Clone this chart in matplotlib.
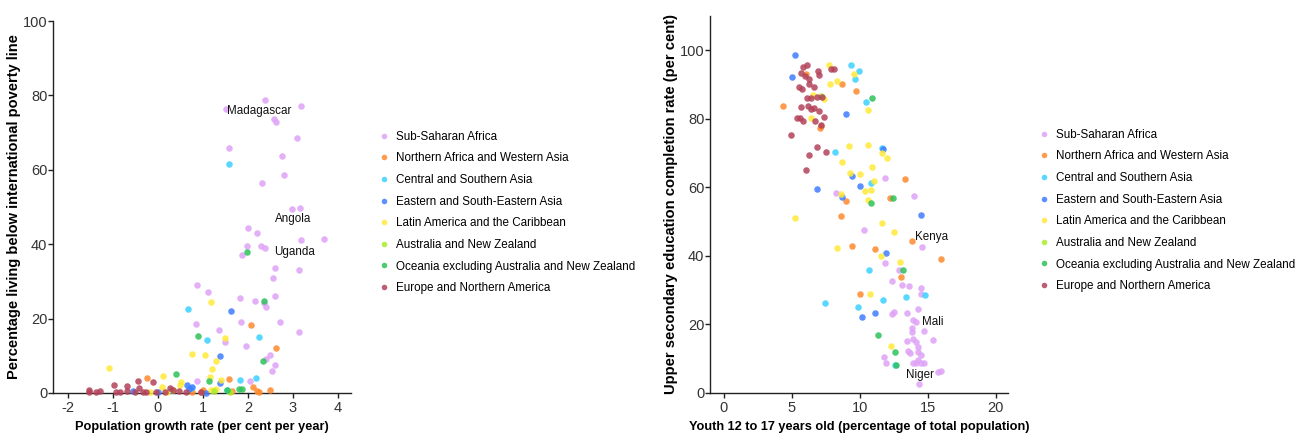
import matplotlib
matplotlib.use("Agg")
import matplotlib.pyplot as plt
from matplotlib.lines import Line2D

plt.rcParams["font.family"] = ["Liberation Sans", "DejaVu Sans"]
plt.rcParams["axes.unicode_minus"] = False

regions = ["Sub-Saharan Africa", "Northern Africa and Western Asia", "Central and Southern Asia",
           "Eastern and South-Eastern Asia", "Latin America and the Caribbean",
           "Australia and New Zealand", "Oceania excluding Australia and New Zealand",
           "Europe and Northern America"]
colores = ["#DFA3F7", "#FF8A2E", "#3CD2FF", "#3F7DFF", "#FFE93A", "#ABEB2B", "#2DC25A", "#B2425A"]

# --- poblacion vs pobreza ---
growth_ssa = [2.38, 1.51, 3.17, 2.58, 2.63, 3.09, 1.57, 2.75, 2.80, 2.32, 2.99, 3.16, 2.01, 2.20, 3.18,
              3.69, 1.99, 2.28, 2.37, 1.86, 2.60, 3.13, 2.55, 0.87, 1.12, 2.60, 1.82, 2.16, 2.36, 2.40,
              0.85, 1.85, 2.72, 3.13, 1.36, 1.50, 1.95, 2.49, 2.41, 2.60, 2.54, 0.87, 2.05]
poverty_ssa = [78.8, 76.4, 77.2, 73.6, 72.8, 68.6, 65.9, 63.7, 58.7, 56.5, 49.4, 49.8, 44.4, 42.9, 41.0,
               41.4, 39.4, 39.6, 39.1, 37.0, 33.7, 33.1, 30.8, 29.1, 27.2, 26.0, 25.5, 24.7, 24.2, 23.2,
               18.6, 19.1, 19.2, 16.3, 16.9, 13.8, 12.6, 10.2, 9.1, 7.5, 6.0, 3.3, 3.3]
growth_nawa = [2.06, 2.63, 1.59, -0.25, 2.12, 2.48, 2.20, 1.01, 0.95, 1.64, 0.75, 2.25]
poverty_nawa = [18.3, 12.2, 3.7, 4.1, 1.7, 0.8, 0.6, 0.8, 0.3, 0.5, 0.3, 0.2]
growth_csa = [1.59, 0.67, 1.10, 2.24, 1.83, 2.18, 1.54, 0.73, 0.30]
poverty_csa = [61.6, 22.5, 14.2, 15.0, 3.5, 4.0, 0.8, 1.3, 0.9]
growth_esea = [1.62, 1.39, 1.37, 0.64, 0.76, -0.55, 0.00, 1.07, 0.70]
poverty_esea = [22.0, 9.9, 2.6, 2.2, 1.7, 0.6, 0.2, 0.1, 1.1]
growth_lac = [-1.09, 1.18, 1.48, 0.75, 1.05, 1.29, 1.21, 1.15, 0.11, 0.51, 0.50, 1.41, 0.09, 1.18,
              1.29, 0.34, -0.18, 0.20]
poverty_lac = [6.6, 24.5, 14.7, 10.5, 10.2, 8.7, 6.5, 4.4, 4.6, 3.0, 2.2, 3.5, 1.5, 0.8,
               1.0, 0.8, 0.3, 0.3]
growth_anz = [1.25, 1.60]
poverty_anz = [0.5, 0.2]
growth_oce = [1.99, 2.36, 0.89, 2.34, 1.13, 0.41, 1.80, 1.87, 1.54]
poverty_oce = [37.9, 24.6, 15.2, 8.6, 3.3, 5.0, 1.0, 1.1, 0.8]
growth_ena = [-1.53, -1.53, -1.37, -1.29, -0.98, -0.92, -0.68, -0.68, -0.45, -0.42, -0.11, -0.33,
              -0.50, -0.26, -0.04, 0.27, 0.34, 0.48, 0.63, 0.96, 0.16, -0.84]
poverty_ena = [0.8, 0.2, 0.2, 0.6, 2.2, 0.3, 2.0, 0.6, 3.3, 1.4, 2.9, 0.3,
               0.2, 0.4, 0.3, 1.3, 0.8, 0.5, 0.3, 0.3, 0.4, 0.3]

# --- jovenes vs educacion secundaria ---
youth_ssa = [11.83, 13.99, 8.27, 10.33, 14.55, 11.83, 12.88, 12.39, 13.08, 13.64, 14.48, 14.53,
             13.47, 14.28, 12.54, 12.37, 13.89, 14.13, 13.84, 13.82, 14.70, 15.39, 13.89, 13.47,
             14.16, 14.31, 13.52, 13.69, 14.26, 14.53, 11.78, 11.95, 13.94, 14.13, 14.26, 14.48,
             14.72, 14.36, 15.75, 15.95]
completion_ssa = [62.7, 57.4, 58.4, 47.7, 42.5, 37.9, 35.8, 32.8, 31.4, 31.3, 30.5, 28.9,
                  23.3, 24.6, 23.6, 23.0, 21.2, 20.7, 19.1, 17.7, 18.2, 15.6, 15.9, 15.1,
                  14.8, 13.5, 12.3, 11.7, 11.9, 11.1, 10.5, 8.8, 8.8, 8.8, 9.7, 8.8,
                  8.7, 2.6, 6.1, 6.3]
youth_nawa = [4.34, 8.71, 9.72, 7.12, 7.07, 8.96, 8.59, 9.40, 11.09, 13.30, 12.25, 13.82, 15.98,
              13.03, 10.01, 6.07]
completion_nawa = [83.6, 90.3, 88.2, 77.8, 77.3, 55.9, 51.5, 42.8, 42.0, 62.5, 56.9, 44.4, 39.0,
                   33.9, 29.0, 93.2]
youth_csa = [9.33, 9.94, 9.67, 10.48, 8.17, 11.63, 10.82, 10.67, 13.37, 14.82, 11.68, 9.89, 7.41, 12.59]
completion_csa = [95.7, 94.0, 91.6, 85.0, 70.2, 71.5, 61.2, 35.8, 28.1, 28.7, 27.1, 25.1, 26.4, 8.1]
youth_esea = [5.25, 4.98, 8.96, 11.73, 9.45, 10.01, 6.87, 8.66, 14.50, 11.95, 11.09, 10.13]
completion_esea = [98.6, 92.2, 81.4, 71.1, 63.2, 60.3, 59.4, 57.1, 51.9, 40.8, 23.2, 22.2]
youth_lac = [7.73, 9.55, 8.34, 7.83, 6.55, 7.36, 10.60, 6.38, 9.20, 10.63, 11.66, 11.98, 8.66, 9.28,
             10.04, 10.87, 11.02, 10.80, 10.36, 10.58, 8.59, 5.20, 11.61, 12.52, 8.34, 11.53, 12.93,
             10.77, 12.27]
completion_lac = [95.6, 93.0, 91.0, 90.1, 86.9, 85.8, 82.7, 80.3, 72.0, 72.4, 70.1, 68.6, 67.4, 64.1,
                  63.9, 66.0, 62.0, 59.3, 58.9, 56.2, 58.2, 51.2, 49.5, 47.0, 42.4, 40.0, 38.2,
                  29.0, 13.7]
youth_anz = [7.14]
completion_anz = [86.8]
youth_oce = [10.87, 12.47, 10.80, 13.20, 11.36, 12.59, 12.67]
completion_oce = [86.0, 56.9, 55.3, 36.0, 16.8, 12.1, 8.2]
youth_ena = [5.82, 6.09, 5.70, 5.97, 6.26, 6.24, 6.95, 6.97, 7.91, 8.13, 5.50, 5.74, 6.63, 6.09,
             6.43, 6.83, 7.24, 5.67, 6.16, 6.41, 6.63, 7.02, 7.36, 5.38, 5.60, 5.80, 6.70, 4.91,
             6.85, 7.49, 6.24, 6.01, 7.14]
completion_ena = [95.0, 95.6, 93.5, 92.5, 91.5, 90.2, 93.9, 92.9, 94.6, 94.6, 89.3, 88.6, 89.3, 86.0,
                  86.0, 86.3, 86.3, 83.5, 83.8, 82.9, 83.1, 82.4, 80.5, 80.2, 80.2, 79.4, 79.3, 75.2,
                  71.7, 70.4, 69.3, 65.2, 78.3]

pobreza = [(growth_ssa, poverty_ssa), (growth_nawa, poverty_nawa), (growth_csa, poverty_csa),
           (growth_esea, poverty_esea), (growth_lac, poverty_lac), (growth_anz, poverty_anz),
           (growth_oce, poverty_oce), (growth_ena, poverty_ena)]
educacion = [(youth_ssa, completion_ssa), (youth_nawa, completion_nawa), (youth_csa, completion_csa),
             (youth_esea, completion_esea), (youth_lac, completion_lac), (youth_anz, completion_anz),
             (youth_oce, completion_oce), (youth_ena, completion_ena)]

etiquetas_pob = [("Madagascar", 1.53, 75.8), ("Angola", 2.61, 46.9), ("Uganda", 2.59, 37.9)]
etiquetas_edu = [("Kenya", 14.04, 45.4), ("Mali", 14.58, 20.8), ("Niger", 13.40, 5.3)]


def estilo_ejes(ax):
    ax.spines["top"].set_visible(False)
    ax.spines["right"].set_visible(False)
    for s in ("left", "bottom"):
        ax.spines[s].set_linewidth(1.0)
        ax.spines[s].set_color("#222222")
    ax.tick_params(axis="both", length=3.5, width=1.0, color="#222222",
                   labelsize=10.5, labelcolor="#333333", pad=2)
    ax.tick_params(axis="y", pad=0.5)


def leyenda(fig, x, y):
    manijas = [Line2D([], [], marker="o", linestyle="", markersize=4, markeredgewidth=0,
                      color=c, alpha=0.85) for c in colores]
    fig.legend(manijas, regions, loc="upper left", bbox_to_anchor=(x, y),
               frameon=False, fontsize=8.35, handletextpad=0.6, labelspacing=0.83,
               borderpad=0, handlelength=1.0)


fig = plt.figure(figsize=(12.96, 4.34), dpi=100)

# grafica izquierda
ax1 = fig.add_axes([53 / 1296, 41 / 434, 298 / 1296, 372 / 434])
for (xs, ys), c in zip(pobreza, colores):
    ax1.scatter(xs, ys, s=22, color=c, alpha=0.85, linewidths=0, zorder=3, clip_on=False)
for nombre, x, y in etiquetas_pob:
    ax1.text(x, y, nombre, fontsize=8.4, va="center", ha="left", color="#111111")
ax1.set_xlim(-2.33, 4.29)
ax1.set_ylim(0, 100)
ax1.set_xticks([-2, -1, 0, 1, 2, 3, 4])
ax1.set_yticks([0, 20, 40, 60, 80, 100])
estilo_ejes(ax1)
ax1.set_xlabel("Population growth rate (per cent per year)", fontsize=9.2, fontweight="bold", labelpad=4.5)
ax1.set_ylabel("Percentage living below international poverty line", fontsize=10.5,
               fontweight="bold", labelpad=1)
leyenda(fig, 372 / 1296, 1 - 125 / 434)

# grafica derecha
ax2 = fig.add_axes([710 / 1296, 41 / 434, 298 / 1296, 377 / 434])
for (xs, ys), c in zip(educacion, colores):
    ax2.scatter(xs, ys, s=22, color=c, alpha=0.85, linewidths=0, zorder=3, clip_on=False)
for nombre, x, y in etiquetas_edu:
    ax2.text(x, y, nombre, fontsize=8.4, va="center", ha="left", color="#111111")
ax2.set_xlim(-1.03, 20.9)
ax2.set_ylim(0, 110)
ax2.set_xticks([0, 5, 10, 15, 20])
ax2.set_yticks([0, 20, 40, 60, 80, 100])
estilo_ejes(ax2)
ax2.set_xlabel("Youth 12 to 17 years old (percentage of total population)", fontsize=9.2,
               fontweight="bold", labelpad=4.5)
ax2.set_ylabel("Upper secondary education completion rate (per cent)", fontsize=10.6,
               fontweight="bold", labelpad=1)
leyenda(fig, 1032 / 1296, 1 - 123 / 434)

plt.savefig("out.png", dpi=100)
